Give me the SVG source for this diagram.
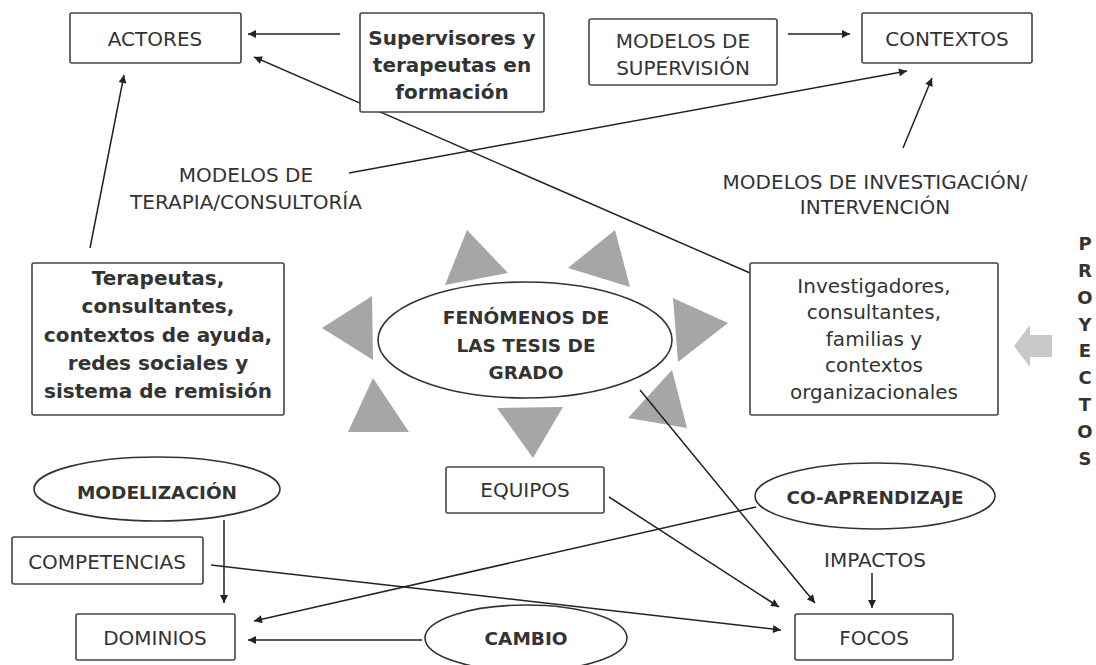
<svg xmlns="http://www.w3.org/2000/svg" width="1096" height="665" viewBox="0 0 1096 665">
<defs>
<marker id="ah" viewBox="0 0 10 10" refX="10" refY="5" markerWidth="9" markerHeight="8" markerUnits="userSpaceOnUse" orient="auto">
<path d="M0,0 L10,5 L0,10 z" fill="#222"/>
</marker>
<style>
.box{fill:#fff;stroke:#444;stroke-width:1.6}
.ell{fill:#fff;stroke:#333;stroke-width:1.6}
.t{font-family:"DejaVu Sans","Liberation Sans",sans-serif;font-size:20px;fill:#333;text-anchor:middle}
.b{font-family:"DejaVu Sans","Liberation Sans",sans-serif;font-size:20px;font-weight:bold;fill:#333;text-anchor:middle}
.be{font-family:"DejaVu Sans","Liberation Sans",sans-serif;font-size:18.5px;font-weight:bold;fill:#333;text-anchor:middle}
.c{fill:none;stroke:#222;stroke-width:1.5}
.tri{fill:#a6a6a6}
</style>
</defs>
<rect width="1096" height="665" fill="#fff"/>

<g id="rays">
<polygon class="tri" points="467,230 445,285 508,273"/>
<polygon class="tri" points="615,230 568,268 630,287"/>
<polygon class="tri" points="322,328 372,296 373,360"/>
<polygon class="tri" points="728,323 673,298 678,362"/>
<polygon class="tri" points="373,378 348,432 409,432"/>
<polygon class="tri" points="533,458 497,408 563,407"/>
<polygon class="tri" points="672,370 628,418 687,428"/>
</g>

<g id="connectors">
<line class="c" x1="340" y1="34" x2="248" y2="34" marker-end="url(#ah)"/>
<line class="c" x1="750" y1="273" x2="254" y2="57" marker-end="url(#ah)"/>
<line class="c" x1="90" y1="248" x2="124" y2="75" marker-end="url(#ah)"/>
<line class="c" x1="349" y1="173" x2="907" y2="71" marker-end="url(#ah)"/>
<line class="c" x1="788" y1="34" x2="850" y2="34" marker-end="url(#ah)"/>
<line class="c" x1="903" y1="148" x2="932" y2="78" marker-end="url(#ah)"/>
<line class="c" x1="640" y1="390" x2="815" y2="603" marker-end="url(#ah)"/>
<line class="c" x1="609" y1="497" x2="779" y2="607" marker-end="url(#ah)"/>
<line class="c" x1="211" y1="565" x2="781" y2="630" marker-end="url(#ah)"/>
<line class="c" x1="756" y1="507" x2="254" y2="621" marker-end="url(#ah)"/>
<line class="c" x1="224" y1="520" x2="224" y2="603" marker-end="url(#ah)"/>
<line class="c" x1="422" y1="640" x2="248" y2="640" marker-end="url(#ah)"/>
<line class="c" x1="872" y1="573" x2="872" y2="608" marker-end="url(#ah)"/>
</g>

<g id="actores">
<rect class="box" x="70" y="13" width="171" height="50" rx="2"/>
<text class="t" x="155" y="46">ACTORES</text>
</g>

<g id="supervisores">
<rect class="box" x="360" y="13" width="184" height="99" rx="2"/>
<text class="b" x="452" y="45">Supervisores y</text>
<text class="b" x="452" y="72">terapeutas en</text>
<text class="b" x="452" y="99">formación</text>
</g>

<g id="modelos-supervision">
<rect class="box" x="589" y="19" width="188" height="66" rx="2"/>
<text class="t" x="683" y="48">MODELOS DE</text>
<text class="t" x="683" y="75">SUPERVISIÓN</text>
</g>

<g id="contextos">
<rect class="box" x="862" y="13" width="170" height="50" rx="2"/>
<text class="t" x="947" y="46">CONTEXTOS</text>
</g>

<g id="modelos-terapia">
<text class="t" x="246" y="182">MODELOS DE</text>
<text class="t" x="246" y="209">TERAPIA/CONSULTORÍA</text>
</g>

<g id="modelos-investigacion">
<text class="t" x="875" y="189">MODELOS DE INVESTIGACIÓN/</text>
<text class="t" x="875" y="214">INTERVENCIÓN</text>
</g>

<g id="terapeutas">
<rect class="box" x="32" y="263" width="252" height="152" rx="2"/>
<text class="b" x="158" y="285">Terapeutas,</text>
<text class="b" x="158" y="313">consultantes,</text>
<text class="b" x="158" y="342">contextos de ayuda,</text>
<text class="b" x="158" y="370">redes sociales y</text>
<text class="b" x="158" y="398">sistema de remisión</text>
</g>

<g id="investigadores">
<rect class="box" x="750" y="263" width="248" height="152" rx="2"/>
<text class="t" x="874" y="293">Investigadores,</text>
<text class="t" x="874" y="319">consultantes,</text>
<text class="t" x="874" y="346">familias y</text>
<text class="t" x="874" y="372">contextos</text>
<text class="t" x="874" y="399">organizacionales</text>
</g>

<g id="fenomenos">
<ellipse class="ell" cx="525" cy="340" rx="147" ry="58"/>
<text class="be" x="526" y="324">FENÓMENOS DE</text>
<text class="be" x="526" y="352">LAS TESIS DE</text>
<text class="be" x="526" y="379">GRADO</text>
</g>

<g id="proyectos">
<polygon points="1014,346 1030,325 1030,335 1052,335 1052,357 1030,357 1030,367" fill="#c8c8c8"/>
<text class="be" x="1085" y="250" style="font-size:18px">P</text>
<text class="be" x="1085" y="277" style="font-size:18px">R</text>
<text class="be" x="1085" y="304" style="font-size:18px">O</text>
<text class="be" x="1085" y="331" style="font-size:18px">Y</text>
<text class="be" x="1085" y="357" style="font-size:18px">E</text>
<text class="be" x="1085" y="384" style="font-size:18px">C</text>
<text class="be" x="1085" y="411" style="font-size:18px">T</text>
<text class="be" x="1085" y="438" style="font-size:18px">O</text>
<text class="be" x="1085" y="465" style="font-size:18px">S</text>
</g>

<g id="equipos">
<rect class="box" x="446" y="467" width="158" height="46" rx="2"/>
<text class="t" x="525" y="497">EQUIPOS</text>
</g>

<g id="modelizacion">
<ellipse class="ell" cx="157" cy="489" rx="123" ry="32"/>
<text class="be" x="157" y="499">MODELIZACIÓN</text>
</g>

<g id="coaprendizaje">
<ellipse class="ell" cx="875" cy="496" rx="120" ry="33"/>
<text class="be" x="875" y="504">CO-APRENDIZAJE</text>
</g>

<g id="competencias">
<rect class="box" x="12" y="537" width="191" height="47" rx="2"/>
<text class="t" x="107" y="569">COMPETENCIAS</text>
</g>

<g id="impactos">
<text class="t" x="875" y="567">IMPACTOS</text>
</g>

<g id="dominios">
<rect class="box" x="76" y="614" width="159" height="46" rx="2"/>
<text class="t" x="155" y="645">DOMINIOS</text>
</g>

<g id="cambio">
<ellipse class="ell" cx="526" cy="638" rx="101" ry="33"/>
<text class="be" x="526" y="645">CAMBIO</text>
</g>

<g id="focos">
<rect class="box" x="795" y="614" width="158" height="46" rx="2"/>
<text class="t" x="874" y="645">FOCOS</text>
</g>
</svg>
